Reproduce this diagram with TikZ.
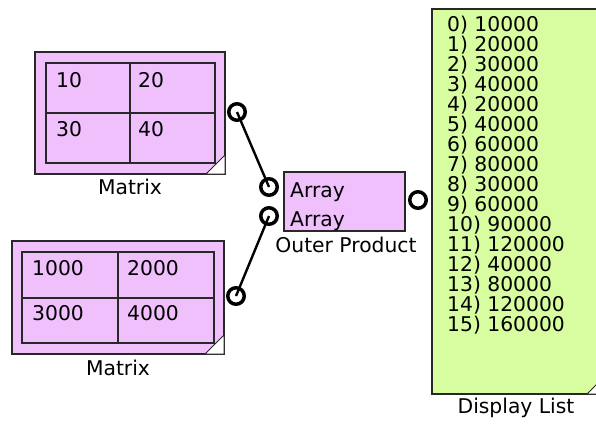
\documentclass[tikz,border=0pt]{standalone}
\usepackage{fontspec}
\setmainfont{DejaVu Sans}
\definecolor{pinkfill}{RGB}{240,192,252}
\definecolor{greenfill}{RGB}{216,252,160}
\definecolor{edge}{RGB}{40,40,40}
\begin{document}
\begin{tikzpicture}[x=1pt,y=-1pt,
  block/.style={draw=edge, line width=1.3pt, fill=pinkfill, inner sep=0pt, outer sep=0pt},
  listbox/.style={draw=edge, line width=1.3pt, fill=greenfill, inner sep=0pt, outer sep=0pt},
  grid/.style={draw=edge, line width=1.3pt},
  corner/.style={draw=edge, fill=white, line width=1pt},
  port/.style={circle, draw=black, line width=3.5pt, minimum size=16.5pt, inner sep=0pt},
  wire/.style={draw=black, line width=2.4pt},
  txt/.style={font=\fontsize{20.3}{20}\selectfont, inner sep=0pt, anchor=base west},
  lbl/.style={font=\fontsize{20.3}{20}\selectfont, inner sep=0pt, anchor=base}]
\useasboundingbox (0,0) rectangle (596,424);
\clip (0,0) rectangle (596,424);

% top matrix
\node[block, minimum width=190pt, minimum height=122pt] (m1) at (130,113) {};
\draw[grid] (46,63) rectangle (215,163) (130,63) -- (130,163) (46,113) -- (215,113);
\draw[corner] (206,174) -- (225,155) -- (225,174) -- cycle;
\node[txt] (m1a) at (56,87) {10};
\node[txt] (m1b) at (138,87) {20};
\node[txt] (m1c) at (56,136) {30};
\node[txt] (m1d) at (138,136) {40};
\node[lbl] (m1l) at (130,194) {Matrix};

% bottom matrix
\node[block, minimum width=212pt, minimum height=113pt] (m2) at (118,297.5) {};
\draw[grid] (22,252) rectangle (214,343) (118,252) -- (118,343) (22,298) -- (214,298);
\draw[corner] (205,354) -- (224,335) -- (224,354) -- cycle;
\node[txt] (m2a) at (32,275) {1000};
\node[txt] (m2b) at (127,275) {2000};
\node[txt] (m2c) at (32,320) {3000};
\node[txt] (m2d) at (127,320) {4000};
\node[lbl] (m2l) at (118,375) {Matrix};

% outer product
\node[block, minimum width=121pt, minimum height=59pt] (op) at (344.5,201.5) {};
\node[txt] (opa) at (290,197) {Array};
\node[txt] (opb) at (290,226) {Array};
\node[lbl] (opl) at (346,252) {Outer Product};

% display list
\node[listbox, minimum width=176pt, minimum height=385pt] (dl) at (520,201.5) {};
\draw[corner] (587,394) -- (608,373) -- (608,394) -- cycle;
\foreach \t [count=\i from 0] in {0) 10000,1) 20000,2) 30000,3) 40000,4) 20000,5) 40000,6) 60000,7) 80000,8) 30000,9) 60000,10) 90000,11) 120000,12) 40000,13) 80000,14) 120000,15) 160000}
  \node[txt] (l\i) at (447,{31+20*\i}) {\t};
\node[lbl] (dll) at (516,413) {Display List};

% ports
\coordinate (p1) at (237,112);
\coordinate (p2) at (236,296);
\coordinate (q1) at (269,187);
\coordinate (q2) at (269,216);
\draw[wire] (p1) -- (q1);
\draw[wire] (p2) -- (q2);
\node[port] (m1o) at (p1) {};
\node[port] (m2o) at (p2) {};
\node[port] (opi1) at (q1) {};
\node[port] (opi2) at (q2) {};
\node[port] (opo) at (418,200) {};
\end{tikzpicture}
\end{document}
